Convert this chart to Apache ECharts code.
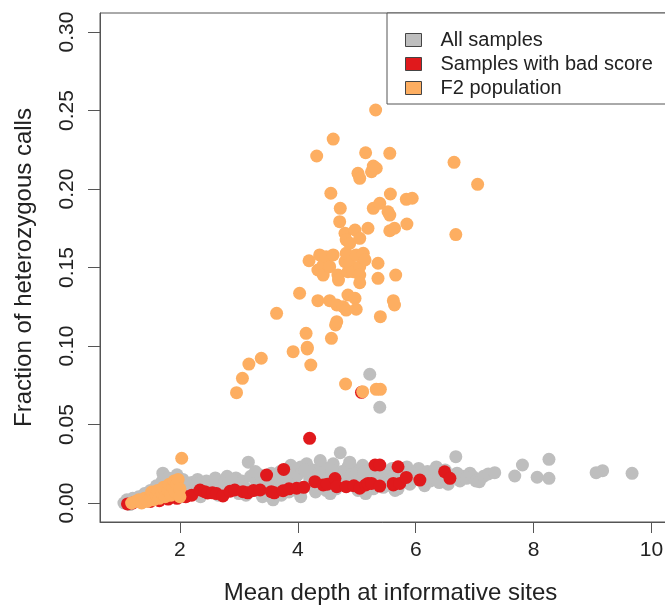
<!DOCTYPE html>
<html>
<head>
<meta charset="utf-8">
<script src="https://cdn.jsdelivr.net/npm/echarts@6/dist/echarts.min.js"></script>
<style>
  html, body { margin: 0; padding: 0; background: #fff; }
  #chart { width: 665px; height: 608px; }
</style>
</head>
<body>
<div id="chart"></div>
<script>
// data: [mean depth, fraction het]
var allSamples = [
  [1.05,0.000],[1.10,0.002],[1.15,-0.001],[1.20,0.003],[1.25,0.001],[1.30,0.004],[1.35,0.002],[1.40,0.006],
  [1.45,0.003],[1.50,0.008],[1.55,0.005],[1.60,0.011],[1.65,0.004],[1.70,0.014],[1.71,0.019],[1.75,0.009],
  [1.80,0.016],[1.85,0.006],[1.90,0.013],[1.95,0.018],[2.00,0.008],[2.05,0.015],[2.10,0.011],[2.15,0.006],
  [2.20,0.013],[2.25,0.009],[2.30,0.015],[2.35,0.004],[2.40,0.011],[2.45,0.014],[2.50,0.007],[2.55,0.012],
  [2.60,0.016],[2.65,0.005],[2.70,0.010],[2.75,0.013],[2.80,0.017],[2.85,0.008],[2.90,0.012],[2.95,0.016],
  [3.00,0.006],[3.05,0.014],[3.10,0.010],[3.16,0.026],[3.20,0.017],[3.25,0.008],[3.30,0.013],[3.35,0.018],
  [3.40,0.004],[3.45,0.011],[3.50,0.015],[3.55,0.019],[3.58,0.002],[3.62,0.009],[3.66,0.014],[3.70,0.020],
  [3.75,0.012],[3.80,0.017],[3.85,0.007],[3.90,0.021],[3.95,0.013],[4.00,0.018],[4.05,0.023],[4.10,0.010],
  [4.15,0.025],[4.20,0.016],[4.25,0.021],[4.30,0.007],[4.35,0.019],[4.40,0.024],[4.45,0.013],[4.50,0.022],
  [4.55,0.017],[4.60,0.025],[4.65,0.009],[4.72,0.032],[4.75,0.020],[4.80,0.015],[4.85,0.023],[4.90,0.018],
  [4.95,0.011],[5.00,0.021],[5.05,0.016],[5.10,0.024],[5.15,0.019],[5.22,0.082],[5.25,0.013],[5.30,0.021],
  [5.35,0.017],[5.39,0.061],[5.40,0.023],[5.45,0.010],[5.50,0.019],[5.55,0.015],[5.60,0.022],[5.65,0.018],
  [5.70,0.009],[5.75,0.020],[5.80,0.016],[5.85,0.023],[5.90,0.012],[5.95,0.019],[6.00,0.015],[6.05,0.022],
  [6.10,0.017],[6.15,0.011],[6.20,0.020],[6.25,0.014],[6.30,0.018],[6.35,0.023],[6.40,0.013],[6.45,0.017],
  [6.50,0.021],[6.55,0.012],[6.60,0.016],[6.68,0.0295],[6.70,0.019],[6.75,0.014],[6.80,0.017],[6.86,0.0157],
  [6.92,0.019],[6.97,0.0168],[7.02,0.014],[7.08,0.0136],[7.15,0.017],[7.23,0.0185],[7.34,0.0193],[7.68,0.0172],
  [7.81,0.0242],[8.06,0.0164],[8.26,0.0157],[8.26,0.0278],[9.06,0.0193],[9.17,0.0206],[9.67,0.0189],
  [2.02,0.004],[2.28,0.012],[2.62,0.009],[2.88,0.015],[3.12,0.005],[3.42,0.016],[3.72,0.005],[3.98,0.008],
  [4.22,0.012],[4.48,0.008],[4.70,0.013],[5.02,0.008],[5.28,0.009],[5.58,0.011],[5.88,0.017],[6.18,0.014],
  [3.28,0.020],[3.60,0.018],[3.88,0.024],[4.12,0.021],[4.38,0.027],[4.58,0.021],[4.88,0.026],[5.12,0.020],
  [5.42,0.020],[5.72,0.022],[6.02,0.019],[6.32,0.021],[4.05,0.004],[4.55,0.006],[5.15,0.006],[5.65,0.008]
];
var badScore = [
  [1.11,-0.0006],[1.20,0.000],[1.35,0.0005],[1.50,0.001],[1.65,0.0015],[1.80,0.0025],[1.95,0.003],[2.10,0.004],
  [2.20,0.005],[2.34,0.0083],[2.42,0.0072],[2.47,0.0064],[2.55,0.0065],[2.62,0.006],[2.73,0.0045],[2.85,0.0075],
  [2.93,0.0083],[3.07,0.0072],[3.15,0.0065],[3.25,0.008],[3.36,0.0083],[3.47,0.0178],[3.55,0.0072],[3.60,0.0065],
  [3.75,0.0078],[3.76,0.0214],[3.85,0.009],[3.98,0.0094],[4.10,0.010],[4.20,0.0412],[4.29,0.0136],[4.43,0.0115],
  [4.50,0.012],[4.63,0.0156],[4.66,0.0104],[4.82,0.0104],[4.95,0.011],[5.05,0.0094],[5.08,0.0705],[5.15,0.0115],
  [5.19,0.0125],[5.25,0.0125],[5.31,0.0242],[5.39,0.0108],[5.39,0.0242],[5.62,0.0115],[5.62,0.0125],[5.70,0.0231],
  [5.73,0.0125],[5.84,0.0163],[6.07,0.0146],[6.49,0.0199],[6.58,0.0157]
];
var f2Population = [
  [1.18,0.000],[1.25,0.001],[1.30,0.002],[1.35,0.000],[1.40,0.003],[1.45,0.001],[1.50,0.004],[1.52,0.007],
  [1.55,0.002],[1.60,0.005],[1.62,0.008],[1.65,0.003],[1.70,0.006],[1.72,0.010],[1.75,0.004],[1.80,0.008],
  [1.82,0.012],[1.85,0.005],[1.88,0.010],[1.90,0.014],[1.92,0.007],[1.95,0.012],[1.97,0.015],[2.00,0.009],
  [2.00,0.004],[2.03,0.0285],
  [2.96,0.0703],[3.06,0.0794],[3.17,0.0885],[3.38,0.0922],[3.64,0.1208],[3.92,0.0964],[4.03,0.1336],
  [4.14,0.1081],[4.16,0.0992],[4.16,0.0981],[4.19,0.1543],[4.22,0.0879],[4.32,0.2210],[4.34,0.1289],
  [4.34,0.1484],[4.37,0.1580],[4.43,0.1516],[4.43,0.1452],[4.48,0.1569],[4.54,0.1505],[4.54,0.1289],
  [4.56,0.1973],[4.57,0.1049],[4.60,0.2318],[4.60,0.1580],[4.64,0.1134],[4.66,0.1155],[4.66,0.1261],
  [4.68,0.1452],[4.69,0.1420],[4.71,0.1792],[4.72,0.1877],[4.77,0.1250],[4.80,0.1718],[4.80,0.1537],
  [4.81,0.0758],[4.82,0.1590],[4.82,0.1675],[4.82,0.1229],[4.85,0.1473],[4.85,0.1325],[4.88,0.1654],
  [4.88,0.1527],[4.94,0.1473],[4.97,0.1739],[4.97,0.1304],[4.99,0.1580],[4.99,0.1234],[5.02,0.2100],
  [5.05,0.2068],[5.05,0.1686],[5.05,0.1505],[5.05,0.1452],[5.05,0.1403],[5.10,0.0709],[5.11,0.1590],
  [5.14,0.1548],[5.15,0.2231],[5.19,0.1750],[5.25,0.2110],[5.28,0.2146],[5.28,0.1877],[5.32,0.2503],
  [5.33,0.2132],[5.33,0.0724],[5.36,0.1527],[5.36,0.1431],[5.39,0.1909],[5.40,0.1187],[5.40,0.0724],
  [5.53,0.1855],[5.56,0.2227],[5.56,0.1834],[5.56,0.1734],[5.57,0.1968],[5.62,0.1289],[5.64,0.1750],
  [5.64,0.1261],[5.66,0.1452],[5.84,0.1934],[5.85,0.1777],[5.94,0.1941],[6.65,0.2170],[7.05,0.2030],
  [6.68,0.1710]
];
var seriesNames = ['All samples', 'Samples with bad score', 'F2 population'];
var seriesColors = ['#bebebe', '#e0191c', '#fdae61'];
var xTicks = [2, 4, 6, 8, 10];
var yTicks = [0, 0.05, 0.10, 0.15, 0.20, 0.25, 0.30];

var chart = echarts.init(document.getElementById('chart'));
var font = 'Liberation Sans, Arial, sans-serif';
var lineCol = '#555';

option = {
    animation: false,
    grid: {
        left: 100,
        top: 13,
        width: 581,
        height: 509,
        outerBoundsMode: 'none',
        containLabel: false,
        show: true,
        borderColor: lineCol,
        borderWidth: 1
    },
    legend: {
        orient: 'vertical',
        left: 387,
        top: 13,
        padding: [17, 40, 6, 18],
        itemGap: 4,
        itemWidth: 16,
        itemHeight: 13,
        icon: 'rect',
        borderColor: lineCol,
        borderWidth: 1,
        backgroundColor: '#fff',
        itemStyle: { borderColor: '#444', borderWidth: 1 },
        textStyle: { fontFamily: font, fontSize: 20, color: '#222', lineHeight: 20, padding: [0, 0, 0, 14] },
        data: seriesNames
    },
    xAxis: {
        type: 'value',
        min: 0.644,
        max: 10.5,
        name: 'Mean depth at informative sites',
        nameLocation: 'middle',
        nameGap: 59,
        nameTextStyle: { fontFamily: font, fontSize: 24, color: '#222' },
        axisLine: { show: true, onZero: false, lineStyle: { color: lineCol } },
        axisTick: { show: true, length: 11, customValues: xTicks, lineStyle: { color: lineCol } },
        axisLabel: { customValues: xTicks, margin: 18, fontFamily: font, fontSize: 21, color: '#222' },
        splitLine: { show: false }
    },
    yAxis: {
        type: 'value',
        min: -0.0121,
        max: 0.3121,
        name: 'Fraction of heterozygous calls',
        nameLocation: 'middle',
        nameGap: 64,
        nameTextStyle: { fontFamily: font, fontSize: 24, color: '#222' },
        axisLine: { show: true, onZero: false, lineStyle: { color: lineCol } },
        axisTick: { show: true, length: 12, customValues: yTicks, lineStyle: { color: lineCol } },
        axisLabel: {
            customValues: yTicks,
            rotate: 90,
            margin: 22,
            fontFamily: font,
            fontSize: 21,
            color: '#222',
            formatter: function (v) { return v.toFixed(2); }
        },
        splitLine: { show: false }
    },
    series: [
        {
            name: seriesNames[0],
            type: 'scatter',
            symbolSize: 13,
            itemStyle: { color: seriesColors[0], opacity: 1 },
            data: allSamples
        },
        {
            name: seriesNames[1],
            type: 'scatter',
            symbolSize: 13,
            itemStyle: { color: seriesColors[1], opacity: 1 },
            data: badScore
        },
        {
            name: seriesNames[2],
            type: 'scatter',
            symbolSize: 13,
            itemStyle: { color: seriesColors[2], opacity: 1 },
            data: f2Population
        }
    ]
};
chart.setOption(option);
</script>
</body>
</html>
